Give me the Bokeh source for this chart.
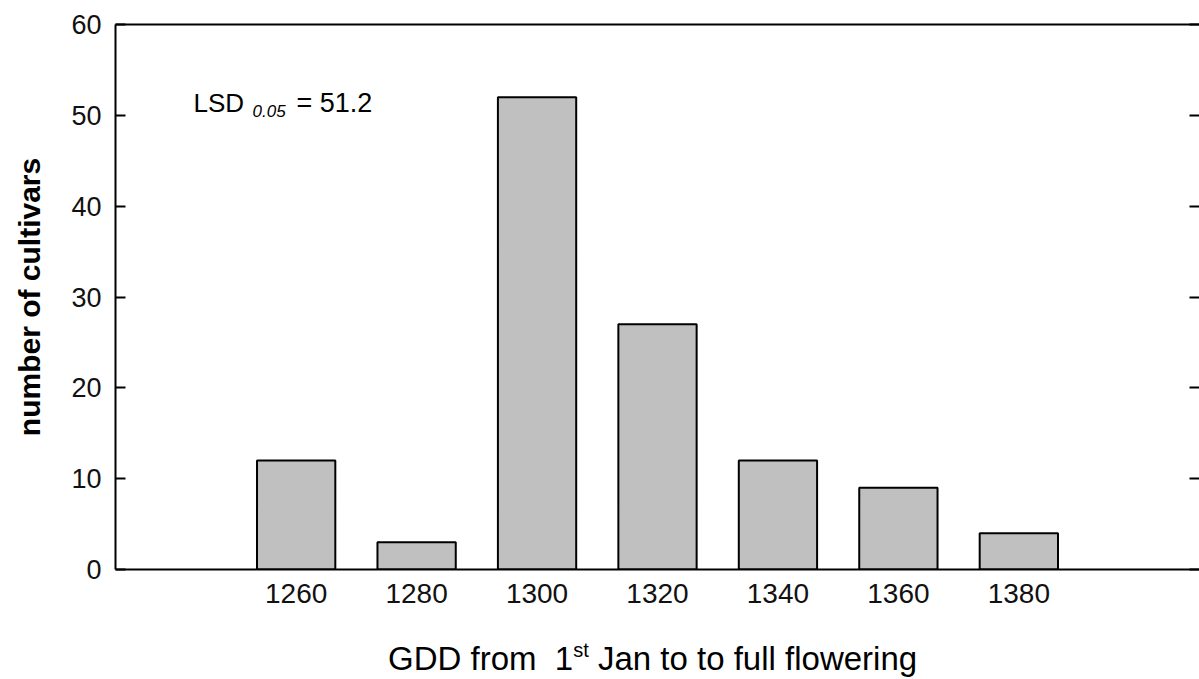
from bokeh.plotting import figure
from bokeh.models import Range1d, LinearAxis, FixedTicker, Label, Div, CustomLabelingPolicy
from bokeh.layouts import column
from bokeh.embed import file_html
from bokeh.resources import INLINE

# data
gdd = [1260, 1280, 1300, 1320, 1340, 1360, 1380]
cultivars = [12, 3, 52, 27, 12, 9, 4]
y_ticks = [0, 10, 20, 30, 40, 50, 60]
x_ticks = [1260, 1280, 1300, 1320, 1340, 1360, 1380]

FONT = "Liberation Sans"

p = figure(width=1199, height=642, output_backend="svg", toolbar_location=None,
           x_range=Range1d(1230, 1410), y_range=Range1d(0, 60),
           x_axis_location=None, y_axis_location=None)
p.min_border_left = 115
p.min_border_right = 0
p.min_border_top = 24
p.min_border_bottom = 73
p.outline_line_color = None
p.grid.visible = False
p.background_fill_color = "white"
p.border_fill_color = "white"

p.vbar(x=gdd, top=cultivars, width=13, bottom=0,
       fill_color="#c0c0c0", line_color="black", line_width=2)

# left axis
ly = LinearAxis(ticker=FixedTicker(ticks=y_ticks))
ly.major_tick_in = 10
ly.major_tick_out = 0
ly.minor_tick_line_color = None
ly.axis_line_width = 2
ly.major_tick_line_width = 2
ly.major_label_text_font = FONT
ly.major_label_text_font_size = "27px"
ly.major_label_text_color = "#111111"
ly.major_label_standoff = 14
ly.axis_label = "number of cultivars"
ly.axis_label_text_font = FONT
ly.axis_label_text_font_size = "30px"
ly.axis_label_text_font_style = "bold"
ly.axis_label_text_color = "black"
ly.axis_label_standoff = 22
p.add_layout(ly, "left")

# right axis (ticks only, no labels)
ry = LinearAxis(ticker=FixedTicker(ticks=y_ticks))
ry.major_tick_in = 10
ry.major_tick_out = 0
ry.minor_tick_line_color = None
ry.axis_line_color = None
ry.major_tick_line_width = 2
ry.major_label_policy = CustomLabelingPolicy(code="return new Set()")
ry.major_label_text_font_size = "0px"
ry.major_label_standoff = 0
p.add_layout(ry, "right")

# bottom axis
bx = LinearAxis(ticker=FixedTicker(ticks=x_ticks))
bx.major_tick_in = 0
bx.major_tick_out = 0
bx.minor_tick_line_color = None
bx.axis_line_width = 2
bx.major_label_text_font = FONT
bx.major_label_text_font_size = "28px"
bx.major_label_text_color = "#111111"
bx.major_label_standoff = 14
p.add_layout(bx, "below")

# top axis (line only)
tx = LinearAxis(ticker=FixedTicker(ticks=[]))
tx.major_tick_in = 0
tx.major_tick_out = 0
tx.minor_tick_line_color = None
tx.axis_line_width = 2
tx.major_label_standoff = 0
p.add_layout(tx, "above")

# LSD annotation
common = dict(x_units="screen", y_units="screen", text_font=FONT, text_color="black",
              text_baseline="alphabetic", text_align="left")
p.add_layout(Label(x=78, y=467, text="LSD", text_font_size="26px", **common))
p.add_layout(Label(x=137, y=459, text="0.05", text_font_style="italic",
                   text_font_size="17px", **common))
p.add_layout(Label(x=181, y=467, text="= 51.2", text_font_size="27px", **common))

# x-axis title with superscript (real HTML text)
xtitle = Div(
    text=("<div style=\"margin-left:388px; white-space:nowrap; font-family:'Liberation Sans';"
          " font-size:33px; line-height:34px; color:black;\">GDD from&nbsp; 1"
          "<span style=\"font-size:20px; line-height:0; vertical-align:13px;\">st</span>"
          " Jan to to full flowering</div>"),
    width=1199, height=37, margin=(0, 0, 0, 0))

layout = column(p, xtitle, spacing=0)
open("out.html", "w").write(file_html(layout, INLINE))
